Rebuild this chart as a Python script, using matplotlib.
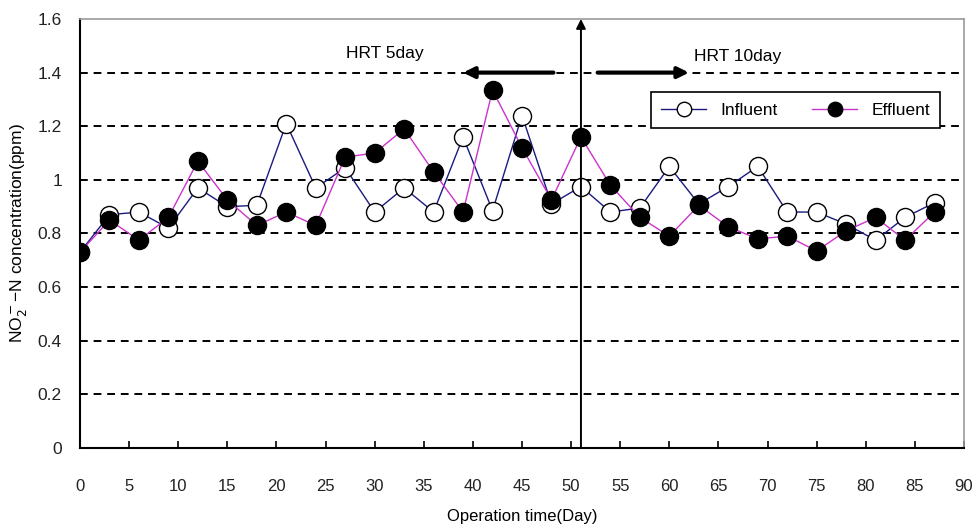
import matplotlib
matplotlib.use("Agg")
import matplotlib.pyplot as plt

plt.rcParams["font.family"] = ["Liberation Sans", "DejaVu Sans"]

# operation days (sampled every 3 days)
days = [0, 3, 6, 9, 12, 15, 18, 21, 24, 27, 30, 33, 36, 39, 42,
        45, 48, 51, 54, 57, 60, 63, 66, 69, 72, 75, 78, 81, 84, 87]
influent = [0.73, 0.87, 0.88, 0.82, 0.97, 0.90, 0.905, 1.21, 0.97, 1.045,
            0.88, 0.97, 0.88, 1.16, 0.885, 1.24, 0.91, 0.975, 0.88, 0.895,
            1.05, 0.91, 0.975, 1.05, 0.88, 0.88, 0.835, 0.775, 0.86, 0.915]
effluent = [0.73, 0.85, 0.775, 0.86, 1.07, 0.925, 0.83, 0.88, 0.83, 1.085,
            1.10, 1.19, 1.03, 0.88, 1.335, 1.12, 0.925, 1.16, 0.98, 0.86,
            0.79, 0.905, 0.825, 0.78, 0.79, 0.735, 0.81, 0.86, 0.775, 0.88]

x_ticks = list(range(0, 91, 5))
y_ticks = [0, 0.2, 0.4, 0.6, 0.8, 1.0, 1.2, 1.4, 1.6]
y_tick_labels = ["0", "0.2", "0.4", "0.6", "0.8", "1", "1.2", "1.4", "1.6"]
change_day = 51

fig = plt.figure(figsize=(9.78, 5.30), dpi=100)
ax = fig.add_axes([0.0818, 0.1547, 0.9039, 0.8095])

for y in y_ticks[1:-1]:
    ax.axhline(y, color="black", lw=1.4, ls=(0, (4, 3)), zorder=1)

ax.plot(days, influent, color="#1a1a80", lw=1.0, marker="o", ms=13,
        mfc="white", mec="black", mew=1.0, label="Influent", zorder=3)
ax.plot(days, effluent, color="#cc33cc", lw=1.0, marker="o", ms=13,
        mfc="black", mec="black", mew=1.0, label="Effluent", zorder=4)

# stage boundary and HRT arrows
ax.annotate("", xy=(change_day, 1.6), xytext=(change_day, 0),
            arrowprops=dict(arrowstyle="-|>", color="black", lw=1.4,
                            mutation_scale=14, shrinkA=0, shrinkB=0),
            zorder=5)
ax.annotate("", xy=(39, 1.4), xytext=(48.2, 1.4),
            arrowprops=dict(arrowstyle="-|>", color="black", lw=3,
                            mutation_scale=16, shrinkA=0, shrinkB=0))
ax.annotate("", xy=(62, 1.4), xytext=(52.7, 1.4),
            arrowprops=dict(arrowstyle="-|>", color="black", lw=3,
                            mutation_scale=16, shrinkA=0, shrinkB=0))
ax.text(31, 1.47, "HRT 5day", fontsize=12.5, ha="center", va="center")
ax.text(67, 1.46, "HRT 10day", fontsize=12.5, ha="center", va="center")

ax.set_xlim(0, 90)
ax.set_ylim(0, 1.6)
ax.set_xticks(x_ticks)
ax.set_yticks(y_ticks)
ax.set_yticklabels(y_tick_labels)
ax.tick_params(axis="x", direction="in", length=5, width=1.2, pad=22,
               labelsize=12, labelcolor="#222222")
ax.tick_params(axis="y", length=0, pad=13, labelsize=12.5, labelcolor="#222222")

for side in ["left", "bottom"]:
    ax.spines[side].set_color("black")
    ax.spines[side].set_linewidth(1.5)
for side in ["top", "right"]:
    ax.spines[side].set_color("#999999")
    ax.spines[side].set_linewidth(1.2)

ax.set_xlabel("Operation time(Day)", fontsize=12, labelpad=11)
ax.set_ylabel("NO$_2^-$\u2212N concentration(ppm)", fontsize=12.5, labelpad=6)

leg = ax.legend(loc="upper left", bbox_to_anchor=(0.636, 0.85), ncol=2,
                fontsize=12.5, frameon=True, fancybox=False, framealpha=1,
                edgecolor="black", handlelength=2.6, columnspacing=2.0,
                borderpad=0.6, markerscale=0.8)
leg.get_frame().set_linewidth(1.2)

fig.savefig("out.png", dpi=100)
